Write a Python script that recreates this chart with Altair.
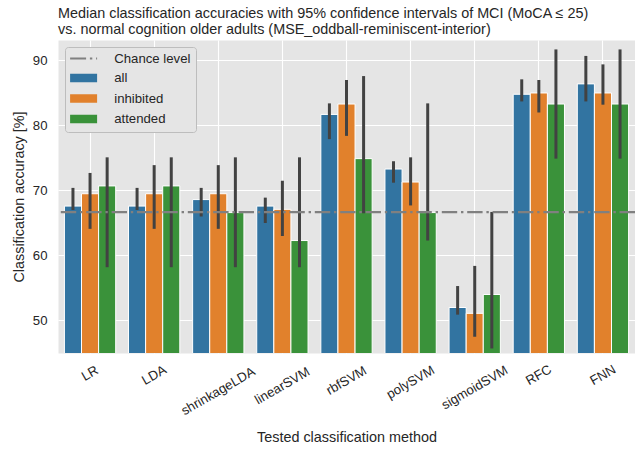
import altair as alt
import pandas as pd

# ---------------- data ----------------
methods = ["LR", "LDA", "shrinkageLDA", "linearSVM", "rbfSVM",
           "polySVM", "sigmoidSVM", "RFC", "FNN"]
groups = ["all", "inhibited", "attended"]

median_all = [67.6, 67.6, 68.6, 67.6, 81.7, 73.3, 52.0, 84.8, 86.4]
lo_all     = [67.0, 67.0, 66.0, 65.0, 77.9, 71.2, 50.9, 83.7, 83.7]
hi_all     = [70.4, 70.4, 70.4, 68.9, 83.4, 74.5, 55.3, 87.1, 90.7]

median_inh = [69.5, 69.5, 69.5, 67.1, 83.3, 71.3, 51.1, 85.0, 85.0]
lo_inh     = [64.1, 64.1, 64.1, 63.0, 78.4, 67.7, 47.5, 82.0, 83.2]
hi_inh     = [72.7, 73.9, 73.9, 71.5, 87.0, 75.1, 58.4, 87.0, 89.4]

median_att = [70.7, 70.7, 66.6, 62.3, 74.9, 66.6, 54.0, 83.3, 83.3]
lo_att     = [58.2, 58.2, 58.2, 58.2, 66.5, 62.3, 45.7, 74.9, 74.9]
hi_att     = [75.1, 75.1, 75.1, 75.1, 87.6, 83.4, 66.7, 91.7, 91.7]

chance_level = 66.67
y_ticks = [50, 60, 70, 80, 90]

title_lines = [
    "Median classification accuracies with 95% confidence intervals of MCI (MoCA \u2264 25)",
    "vs. normal cognition older adults (MSE_oddball-reminiscent-interior)",
]

# ---------------- tables ----------------
series = {
    "all": (median_all, lo_all, hi_all),
    "inhibited": (median_inh, lo_inh, hi_inh),
    "attended": (median_att, lo_att, hi_att),
}
rows = []
for i, m in enumerate(methods):
    for g in groups:
        med, lo, hi = series[g]
        rows.append({"method": m, "group": g, "median": med[i], "lo": lo[i], "hi": hi[i]})
df = pd.DataFrame(rows)
labels_df = pd.DataFrame({"method": methods})

# ---------------- styling ----------------
FONT = "Liberation Sans"
TXT = "#262626"
BG = "#E5E5E5"
PLOT_W, PLOT_H = 577, 313
legend_domain = ["Chance level"] + groups
colors = ["#808080", "#3274A1", "#E1812C", "#3A923A"]
line_path = "M-2.7,0H0.5M1.26,0H1.74M2.5,0H2.7"
rect_path = "M-2.5,-0.65H2.5V0.65H-2.5Z"

# bars: own colour scale (different domain, so it is not merged with the legend)
bar_color_scale = alt.Scale(domain=groups, range=colors[1:])
# legend-only scales (shared domain -> one combined legend)
fill_scale = alt.Scale(domain=legend_domain, range=colors)
stroke_scale = alt.Scale(domain=legend_domain, range=colors)
shape_scale = alt.Scale(domain=legend_domain,
                        range=[line_path, rect_path, rect_path, rect_path])

legend = alt.Legend(
    title=None, orient="top-left", offset=7, padding=5,
    fillColor=BG, strokeColor="#BDBDBD", cornerRadius=3,
    symbolSize=100, symbolStrokeWidth=2, symbolOffset=7,
    labelOffset=24, labelFont=FONT, labelFontSize=13.2, labelColor=TXT,
    rowPadding=5.5,
)

x_scale = alt.Scale(paddingInner=0.2, paddingOuter=0.1)
y_scale = alt.Scale(domain=[45, 93.15], zero=False, nice=False)

x_axis = alt.Axis(labels=False, ticks=False, domain=False, grid=True,
                  bandPosition=0.5, title="Tested classification method",
                  titlePadding=77)
y_axis = alt.Axis(values=y_ticks, ticks=False, domain=False, grid=True,
                  labelPadding=11, title="Classification accuracy [%]",
                  titlePadding=6)

base = alt.Chart(df)

bars = base.mark_bar(stroke="white", strokeWidth=1, clip=True).encode(
    x=alt.X("method:N", sort=methods, scale=x_scale, axis=x_axis),
    xOffset=alt.XOffset("group:N", sort=groups,
                        scale=alt.Scale(paddingInner=0, paddingOuter=0)),
    y=alt.Y("median:Q", scale=y_scale, axis=y_axis),
    color=alt.Color("group:N", scale=bar_color_scale, legend=None),
)

errs = base.mark_rule(color="#424242", strokeWidth=3).encode(
    x=alt.X("method:N", sort=methods),
    xOffset=alt.XOffset("group:N", sort=groups),
    y=alt.Y("lo:Q"),
    y2="hi:Q",
)

chance = alt.Chart(pd.DataFrame({"c": [chance_level]})).mark_rule(
    color="#808080", strokeWidth=2.4, strokeDash=[15.4, 3.8, 2.4, 3.8]
).encode(y=alt.Y("c:Q"))

legend_layer = base.transform_filter("false").mark_point(
    filled=True, opacity=1, size=100
).encode(
    fill=alt.Fill("group:N", scale=fill_scale, legend=legend),
    stroke=alt.Stroke("group:N", scale=stroke_scale, legend=legend),
    shape=alt.Shape("group:N", scale=shape_scale, legend=legend),
)

plot = alt.layer(bars, errs, chance, legend_layer)

# rotated category labels: top of each rotated label aligned, centred on its band
xlabels = alt.Chart(labels_df).transform_calculate(
    ly="330 + length(datum.method) * 0.54 * 13.2 / 4"
).mark_text(
    angle=330, align="center", baseline="middle",
    font=FONT, fontSize=13.2, color=TXT
).encode(
    x=alt.X("method:N", sort=methods),
    y=alt.Y("ly:Q", axis=None,
            scale=alt.Scale(domain=[0, PLOT_H], range=[0, PLOT_H], nice=False, zero=False)),
    text="method:N",
)

chart = alt.layer(plot, xlabels).resolve_scale(y="independent").properties(
    width=PLOT_W, height=PLOT_H,
    background="white",
    view=alt.ViewBackground(fill=BG, stroke="transparent"),
    padding={"left": 58, "top": 40, "right": 0, "bottom": 97},
    autosize=alt.AutoSizeParams(type="none"),
    title=alt.TitleParams(
        text=title_lines, anchor="start", frame="group",
        font=FONT, fontSize=14.4, fontWeight="normal", color=TXT,
        lineHeight=15.3, offset=3,
    ),
).configure_view(
    fill=BG, stroke="transparent"
).configure_axis(
    gridColor="white", gridWidth=1.1,
    labelFont=FONT, labelFontSize=13.2, labelColor=TXT,
    titleFont=FONT, titleFontSize=14.4, titleFontWeight="normal", titleColor=TXT,
)

chart.save("out.html", embed_options={"renderer": "svg", "actions": False})
